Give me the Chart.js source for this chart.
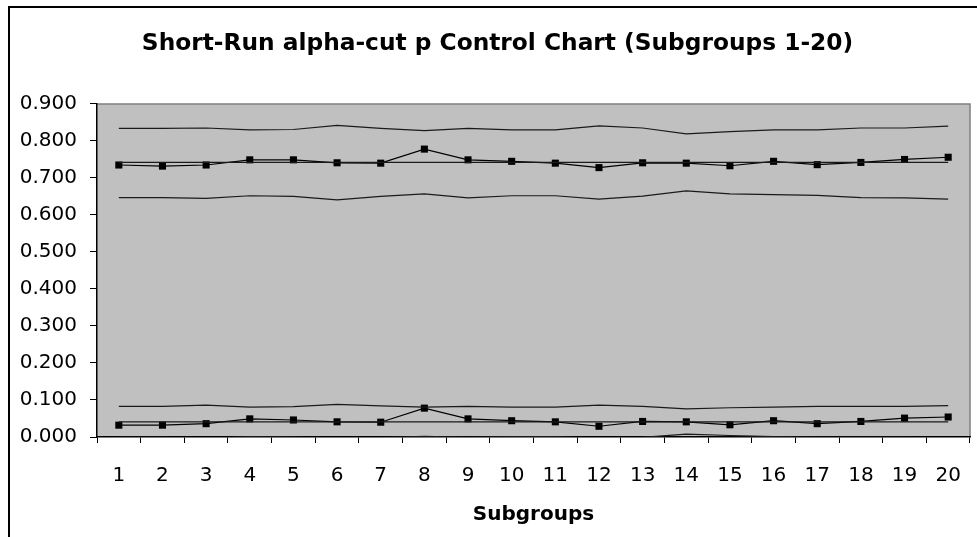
<!DOCTYPE html>
<html>
<head>
<meta charset="utf-8">
<script src="https://cdn.jsdelivr.net/npm/chart.js@4"></script>
<style>
  html, body { margin: 0; padding: 0; background: #fff; }
  #wrap { width: 977px; height: 537px; }
</style>
</head>
<body>
<div id="wrap"><canvas id="chart" width="977" height="537"></canvas></div>
<script>
// subgroups
const subgroups = ['1','2','3','4','5','6','7','8','9','10','11','12','13','14','15','16','17','18','19','20'];

// upper set (alpha-cut upper end)
const upperUcl = [0.834,0.834,0.835,0.830,0.831,0.842,0.834,0.828,0.834,0.830,0.830,0.841,0.835,0.819,0.825,0.830,0.830,0.835,0.835,0.840];
const upperCl  = [0.742,0.742,0.742,0.742,0.742,0.742,0.742,0.742,0.742,0.742,0.742,0.742,0.742,0.742,0.742,0.742,0.742,0.742,0.742,0.742];
const upperP   = [0.735,0.732,0.735,0.749,0.749,0.741,0.740,0.778,0.749,0.745,0.740,0.728,0.741,0.740,0.733,0.745,0.736,0.742,0.750,0.756];
const upperLcl = [0.647,0.647,0.645,0.652,0.650,0.641,0.650,0.657,0.646,0.652,0.652,0.643,0.651,0.665,0.657,0.655,0.653,0.647,0.646,0.643];

// lower set (alpha-cut lower end)
const lowerUcl = [0.083,0.083,0.086,0.081,0.082,0.088,0.084,0.081,0.083,0.081,0.081,0.086,0.083,0.076,0.079,0.081,0.083,0.083,0.083,0.085];
const lowerCl  = [0.041,0.041,0.041,0.041,0.041,0.041,0.041,0.041,0.041,0.041,0.041,0.041,0.041,0.041,0.041,0.041,0.041,0.041,0.041,0.041];
const lowerP   = [0.032,0.032,0.036,0.049,0.046,0.041,0.040,0.078,0.049,0.044,0.041,0.029,0.042,0.041,0.033,0.044,0.036,0.042,0.051,0.054];
const lowerLcl = [-0.001,-0.001,-0.004,0.001,0.000,-0.006,-0.002,0.002,-0.001,0.001,0.001,-0.004,-0.001,0.008,0.004,0.001,-0.001,-0.001,-0.001,-0.003];

const FONT = '"DejaVu Sans", Arial, sans-serif';

function limitLine(data) {
    return { data: data, borderColor: '#1a1a1a', borderWidth: 1.2, pointRadius: 0, tension: 0, fill: false };
}
function pLine(data) {
    return {
        data: data, borderColor: '#000', borderWidth: 1.2, tension: 0, fill: false,
        pointStyle: 'rect', pointRadius: 5, pointBorderWidth: 0,
        pointBackgroundColor: '#000', pointHoverRadius: 5
    };
}

// gray plot area + outer frame, like the spreadsheet chart
const plotFrame = {
    id: 'plotFrame',
    beforeDraw(chart) {
        const { ctx, chartArea: a } = chart;
        ctx.save();
        ctx.fillStyle = '#c0c0c0';
        ctx.fillRect(a.left, a.top, a.right - a.left, a.bottom - a.top);
        ctx.strokeStyle = '#808080';
        ctx.lineWidth = 1.5;
        ctx.beginPath();
        ctx.moveTo(a.left, a.top);
        ctx.lineTo(a.right, a.top);
        ctx.lineTo(a.right, a.bottom);
        ctx.stroke();
        // chart frame
        ctx.strokeStyle = '#000';
        ctx.lineWidth = 2;
        ctx.beginPath();
        ctx.moveTo(9, chart.height);
        ctx.lineTo(9, 7);
        ctx.lineTo(chart.width, 7);
        ctx.stroke();
        ctx.restore();
    }
};

new Chart(document.getElementById('chart'), {
    type: 'line',
    data: {
        labels: subgroups,
        datasets: [
            limitLine(upperUcl), limitLine(upperCl), pLine(upperP), limitLine(upperLcl),
            limitLine(lowerUcl), limitLine(lowerCl), pLine(lowerP), limitLine(lowerLcl)
        ]
    },
    options: {
        responsive: false,
        animation: false,
        layout: { padding: { left: 18, right: 0, top: 0, bottom: 0 } },
        plugins: {
            legend: { display: false },
            tooltip: { enabled: false },
            title: {
                display: true,
                text: 'Short-Run alpha-cut p Control Chart (Subgroups 1-20)',
                color: '#000',
                font: { family: FONT, size: 23.3, weight: 'bold' },
                padding: { top: 30, bottom: 46 }
            }
        },
        scales: {
            x: {
                offset: true,
                grid: { offset: true, drawOnChartArea: false, drawTicks: true, tickLength: 6, color: '#000' },
                border: { color: '#000', width: 1.5 },
                ticks: { color: '#000', font: { family: FONT, size: 20 }, padding: 21, maxRotation: 0, autoSkip: false },
                title: {
                    display: true, text: 'Subgroups', color: '#000',
                    font: { family: FONT, size: 20, weight: 'bold' },
                    padding: { top: 0, bottom: 10 }
                },
                afterFit(scale) {
                    scale.height = 100;
                    scale.paddingLeft = 0;
                    scale.paddingRight = 7;
                }
            },
            y: {
                min: 0, max: 0.9,
                grid: { drawOnChartArea: false, drawTicks: true, tickLength: 7, color: '#000' },
                border: { color: '#000', width: 1.5 },
                ticks: {
                    stepSize: 0.1, color: '#000', padding: 13,
                    font: { family: FONT, size: 20 },
                    callback: v => Number(v).toFixed(3)
                },
                afterFit(scale) { scale.width = 79; }
            }
        }
    },
    plugins: [plotFrame]
});
</script>
</body>
</html>
